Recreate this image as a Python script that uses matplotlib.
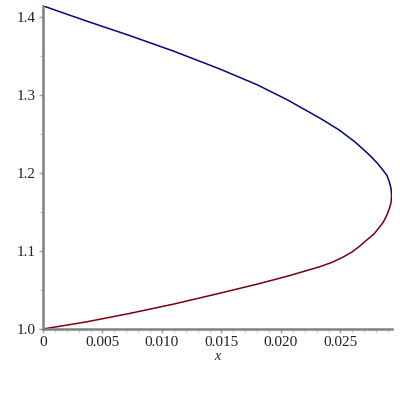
import numpy as np
import matplotlib
matplotlib.use('Agg')
import matplotlib.pyplot as plt
from matplotlib.ticker import MultipleLocator

# lower branch (red)
x_low = [0.0, 0.0036, 0.0073, 0.0110, 0.0149, 0.0180, 0.0205, 0.0233,
         0.0243, 0.0252, 0.0260, 0.0266, 0.0272, 0.0278, 0.0282, 0.0286,
         0.0289, 0.0291, 0.02925, 0.0293]
y_low = [1.000, 1.009, 1.020, 1.032, 1.046, 1.0575, 1.0675, 1.080,
         1.0855, 1.092, 1.099, 1.106, 1.114, 1.1215, 1.129, 1.137,
         1.146, 1.154, 1.162, 1.172]

# upper branch (blue)
x_up = [0.0293, 0.02925, 0.0291, 0.0289, 0.0285, 0.0281, 0.0275, 0.0269,
        0.0262, 0.0249, 0.0233, 0.0205, 0.0180, 0.0149, 0.0110, 0.0073,
        0.0036, 0.0]
y_up = [1.172, 1.180, 1.189, 1.197, 1.205, 1.2125, 1.222, 1.2305,
        1.240, 1.255, 1.270, 1.294, 1.313, 1.333, 1.356, 1.376,
        1.395, 1.4142]

xticks = [0, 0.005, 0.010, 0.015, 0.020, 0.025]
xticklabels = ['0', '0.005', '0.010', '0.015', '0.020', '0.025']
yticks = [1.0, 1.1, 1.2, 1.3, 1.4]
yticklabels = ['1.0', '1.1', '1.2', '1.3', '1.4']

plt.rcParams['font.family'] = ['Liberation Serif', 'DejaVu Serif']

fig = plt.figure(figsize=(4, 4), dpi=100)
ax = fig.add_axes([0.1075, 0.1775, 0.8725, 0.8085])

ax.plot(x_up, y_up, color='#000a78', lw=1.1)
ax.plot(x_low, y_low, color='#78000e', lw=1.1)

ax.set_xlim(0, 0.02933)
ax.set_ylim(1.0, 1.4145)

ax.set_xticks(xticks)
ax.set_xticklabels(xticklabels)
ax.set_yticks(yticks)
ax.set_yticklabels(yticklabels)
ax.xaxis.set_minor_locator(MultipleLocator(0.001))
ax.yaxis.set_minor_locator(MultipleLocator(0.05))

for s in ['top', 'right']:
    ax.spines[s].set_visible(False)
for s in ['left', 'bottom']:
    ax.spines[s].set_color('#808080')
    ax.spines[s].set_linewidth(1.8)

ax.tick_params(which='major', length=3, width=1, color='#a0a0a0',
               labelsize=11, pad=2, labelcolor='#222222')
ax.tick_params(which='minor', length=2, width=0.8, color='#c0c0c0')

ax.set_xlabel('x', fontstyle='italic', fontsize=10, labelpad=1, color='#222222')

fig.savefig('out.png', dpi=100)
